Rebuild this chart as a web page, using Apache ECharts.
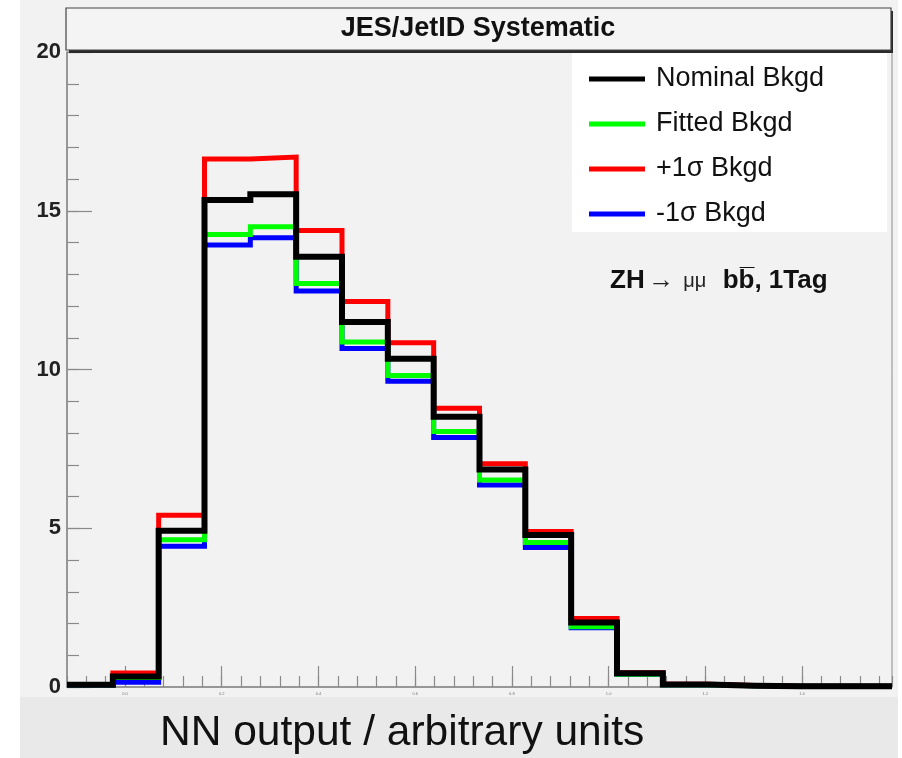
<!DOCTYPE html>
<html>
<head>
<meta charset="utf-8">
<script src="https://cdn.jsdelivr.net/npm/echarts@6/dist/echarts.min.js"></script>
<style>
  html, body { margin: 0; padding: 0; background: #fff; }
  #chart { width: 902px; height: 758px; }
</style>
</head>
<body>
<div id="chart"></div>
<script>
// NN output axis (arbitrary units, x100), 18 equal-width bins
const xMin = -12;
const xMax = 158.6;
const nBins = 18;
const xMajorTicks = [0, 20, 40, 60, 80, 100, 120, 140];

// Bin contents per background model
const nominalBkgd = [0.07, 0.33, 4.92, 15.34, 15.52, 13.55, 11.50, 10.34, 8.51, 6.85, 4.79, 2.03, 0.43, 0.08, 0.04, 0.02, 0.02, 0.02];
const fittedBkgd  = [0.07, 0.30, 4.64, 14.25, 14.50, 12.71, 10.87, 9.81, 8.05, 6.52, 4.55, 1.90, 0.40, 0.07, 0.04, 0.02, 0.02, 0.02];
const plus1Bkgd   = [0.08, 0.44, 5.41, 16.63, 16.69, 14.38, 12.14, 10.84, 8.78, 7.03, 4.90, 2.16, 0.45, 0.09, 0.05, 0.02, 0.02, 0.02];
const minus1Bkgd  = [0.06, 0.15, 4.43, 13.92, 14.15, 12.47, 10.66, 9.63, 7.86, 6.36, 4.39, 1.87, 0.39, 0.07, 0.04, 0.02, 0.02, 0.02];

const seriesNames = ['Nominal Bkgd', 'Fitted Bkgd', '+1\u03c3 Bkgd', '-1\u03c3 Bkgd'];

const FONT = "'Liberation Sans', Arial, sans-serif";

// histogram outline: one point per lower bin edge plus the final upper edge
function histSteps(vals) {
  const w = (xMax - xMin) / nBins;
  const pts = vals.map((v, i) => [xMin + i * w, v]);
  pts.push([xMax, vals[vals.length - 1]]);
  return pts;
}

function histSeries(name, vals, color, width) {
  return {
    name: name,
    type: 'line',
    step: 'end',
    xAxisIndex: 0,
    yAxisIndex: 0,
    data: histSteps(vals),
    showSymbol: false,
    symbol: 'none',
    color: color,
    lineStyle: { color: color, width: width, join: 'miter', cap: 'butt' },
    z: 2
  };
}

const axisGray = '#8a8a8a';

const option = {
  animation: false,
  backgroundColor: '#f2f2f2',
  grid: {
    left: 67, right: 10, top: 52, bottom: 71,
    show: true, borderColor: axisGray, borderWidth: 1, backgroundColor: 'transparent'
  },
  xAxis: [
    {
      type: 'value', min: xMin, max: xMax, interval: 4, position: 'bottom',
      axisLine: { show: true, onZero: false, lineStyle: { color: axisGray, width: 1.5 } },
      axisTick: { show: true, inside: true, length: 11, lineStyle: { color: axisGray, width: 1.2 } },
      axisLabel: { show: false },
      splitLine: { show: false }
    },
    {
      type: 'value', min: xMin, max: xMax, position: 'bottom',
      axisLine: { show: false, onZero: false },
      axisTick: { show: true, inside: true, length: 21, customValues: xMajorTicks, lineStyle: { color: axisGray, width: 1.2 } },
      axisLabel: {
        show: true, customValues: xMajorTicks, fontSize: 4, color: '#777', margin: 5,
        formatter: v => (v / 100).toFixed(1)
      },
      splitLine: { show: false }
    }
  ],
  yAxis: [
    {
      type: 'value', min: 0, max: 20, interval: 1, position: 'left',
      axisLine: { show: true, onZero: false, lineStyle: { color: axisGray, width: 1.5 } },
      axisTick: { show: true, inside: true, length: 12, lineStyle: { color: axisGray, width: 1.2 } },
      axisLabel: { show: false },
      splitLine: { show: false }
    },
    {
      type: 'value', min: 0, max: 20, interval: 5, position: 'left',
      axisLine: { show: false, onZero: false },
      axisTick: { show: true, inside: true, length: 25, lineStyle: { color: axisGray, width: 1.2 } },
      axisLabel: {
        show: true, fontSize: 22, fontWeight: 'bold', color: '#222', margin: 6, fontFamily: FONT
      },
      splitLine: { show: false }
    }
  ],
  legend: {
    data: seriesNames,
    orient: 'vertical',
    left: 584, top: 59,
    icon: 'rect',
    itemWidth: 56, itemHeight: 5,
    itemGap: 15,
    selectedMode: false,
    textStyle: { fontSize: 27, lineHeight: 30, color: '#111', fontFamily: FONT, padding: [0, 0, 0, 6] },
    z: 6
  },
  series: [
    histSeries(seriesNames[3], minus1Bkgd, '#0000ff', 5),
    histSeries(seriesNames[1], fittedBkgd, '#00ff00', 5),
    histSeries(seriesNames[2], plus1Bkgd, '#ff0000', 5),
    histSeries(seriesNames[0], nominalBkgd, '#000000', 6)
  ],
  graphic: [
    // outer margins and the lower band
    { type: 'rect', z: -1, silent: true, shape: { x: 0, y: 0, width: 20, height: 758 }, style: { fill: '#ffffff' } },
    { type: 'rect', z: -1, silent: true, shape: { x: 898, y: 0, width: 4, height: 758 }, style: { fill: '#ffffff' } },
    { type: 'rect', z: -1, silent: true, shape: { x: 20, y: 697, width: 878, height: 61 }, style: { fill: '#e9e9e9' } },
    // legend panel
    { type: 'rect', z: 1, silent: true, shape: { x: 572, y: 53, width: 315, height: 179 }, style: { fill: '#ffffff' } },
    // title box with drop shadow
    { type: 'rect', z: 10, silent: true, shape: { x: 69, y: 11, width: 824, height: 42 }, style: { fill: '#2a2a2a' } },
    { type: 'rect', z: 11, silent: true, shape: { x: 66, y: 8, width: 825, height: 42 }, style: { fill: '#f4f4f4', stroke: '#444', lineWidth: 1.2 } },
    {
      type: 'text', z: 12, silent: true, x: 478, y: 29,
      style: {
        text: 'JES/JetID Systematic', fontSize: 27, fontWeight: 'bold', fontFamily: FONT,
        fill: '#111', align: 'center', verticalAlign: 'middle'
      }
    },
    // process annotation
    {
      type: 'text', z: 12, silent: true, x: 610, y: 281,
      style: {
        text: '{b|ZH}{a|\u2192}{m|\u03bc\u03bc}{s| }{b|bb\u0305, 1Tag}',
        verticalAlign: 'middle',
        rich: {
          b: { fontSize: 26, fontWeight: 'bold', fontFamily: FONT, fill: '#111' },
          a: { fontSize: 26, fontFamily: FONT, fill: '#222', width: 33, align: 'center' },
          m: { fontSize: 20, fontFamily: FONT, fill: '#222', width: 34, align: 'center' },
          s: { fontSize: 20, width: 11 }
        }
      }
    },
    // x-axis title
    {
      type: 'text', z: 12, silent: true, x: 160, y: 733,
      style: {
        text: 'NN output / arbitrary units', fontSize: 42.5, fontFamily: FONT,
        fill: '#111', verticalAlign: 'middle'
      }
    }
  ]
};

const chart = echarts.init(document.getElementById('chart'), null, { renderer: 'canvas' });
chart.setOption(option);
</script>
</body>
</html>
